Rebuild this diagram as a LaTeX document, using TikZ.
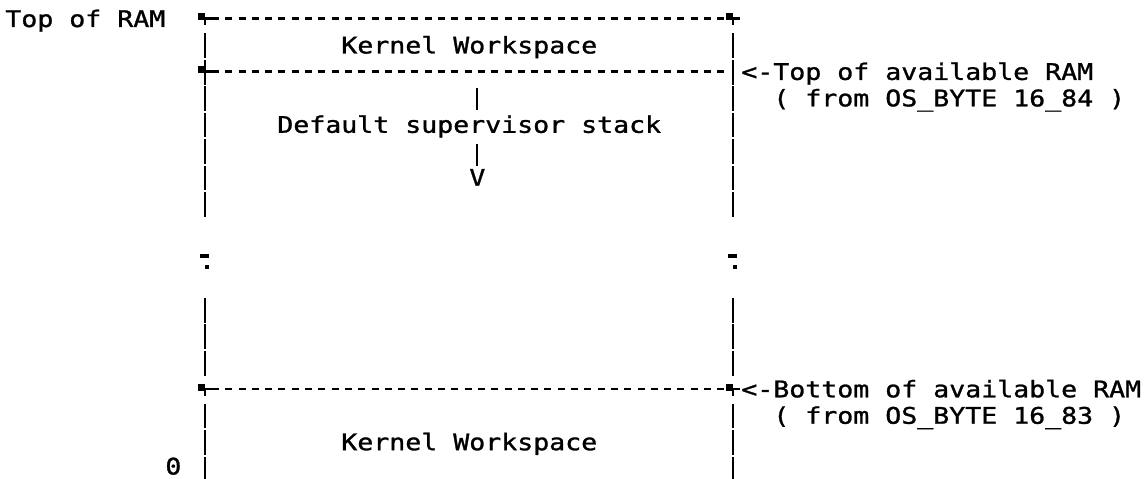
\documentclass[tikz,border=0pt]{standalone}
\usepackage{fontspec}
\usepackage{tikz}
\usetikzlibrary{positioning,calc}
\newfontfamily\ramfont[FakeStretch=1.163,FakeBold=1.2]{DejaVu Sans Mono}
\definecolor{ink}{HTML}{000000}
% row pitch of the memory map, in px
\newcommand{\rowpitch}{26.45}
\tikzset{
  memtext/.style  ={font=\ramfont\fontsize{13pt}{15pt}\selectfont,
                    inner sep=0pt, anchor=base west, text=ink},
  ruleline/.style ={draw=ink, line width=0.05cm,
                    dash pattern=on 0.14cm off 0.126cm},
  sidebar/.style  ={draw=ink, line width=0.05cm},
}

\begin{document}
\begin{tikzpicture}[x=0.02cm,y=-0.02cm]
    \useasboundingbox (0,0) rectangle (1147,479);

    % ----- side walls, one stroke per text row -----
    \foreach \r in {2,...,8,12,13,14,16,17,18} {
      \pgfmathsetmacro\rowy{18.5+(\r-1)*\rowpitch}
      \draw[sidebar] (205,\rowy-11.6) -- (205,\rowy+13.2);
      \draw[sidebar] (733,\rowy-11.6) -- (733,\rowy+13.2);
    }
    \draw[sidebar] (733,71.4-11.6) -- (733,71.4+13.2);

    % ----- dashed rules -----
    \draw[ruleline] (212,18.5)  -- (727,18.5);
    \draw[ruleline] (212,71.4)  -- (724,71.4);
    \draw[ruleline] (212,388.8) -- (727,388.8);

    % ----- corners -----
    \foreach \x/\r in {205/1,733/1,205/3,205/15,733/15} {
      \pgfmathsetmacro\rowy{18.5+(\r-1)*\rowpitch}
      \fill[ink] (\x-7,\rowy-5) rectangle (\x,\rowy+2);
      \draw[sidebar] (\x,\rowy) -- (\x+7,\rowy);
      \draw[sidebar] (\x,\rowy) -- (\x,\rowy+7);
    }

    % ----- gap marks -----
    \foreach \x in {205,733} {
      \fill[ink] (\x-5,254.5) rectangle (\x+4,258.5);
      \fill[ink] (\x,265.5) rectangle (\x+4,269.5);
    }

    % ----- labels -----
    \node[memtext] (topram)   at (5,27)      {Top of RAM};
    \node[memtext] (kwtop)    at (341,53.45) {Kernel Workspace};
    \node[memtext] (topavail) at (741,79.9)  {<-Top of available RAM};
    \node[memtext] (topsrc)   at (773,106.35) {( from OS\_BYTE 16\_84 )};
    \node[memtext] (svcstack) at (277,132.8) {Default supervisor stack};
    \node[memtext] (stackdir) at (469,185.7) {V};
    \node[memtext] (botavail) at (741,397.3) {<-Bottom of available RAM};
    \node[memtext] (botsrc)   at (773,423.75) {( from OS\_BYTE 16\_83 )};
    \node[memtext] (kwbot)    at (341,450.2) {Kernel Workspace};
    \node[memtext] (zero)     at (165,474.5) {0};

    % ----- stack growth arrow -----
    \coordinate (stacktop) at (477,88);
    \coordinate (stackmid) at (477,144);
    \draw[sidebar] (stacktop) -- ++(0,22);
    \draw[sidebar] (stackmid) -- ++(0,22);
\end{tikzpicture}
\end{document}
